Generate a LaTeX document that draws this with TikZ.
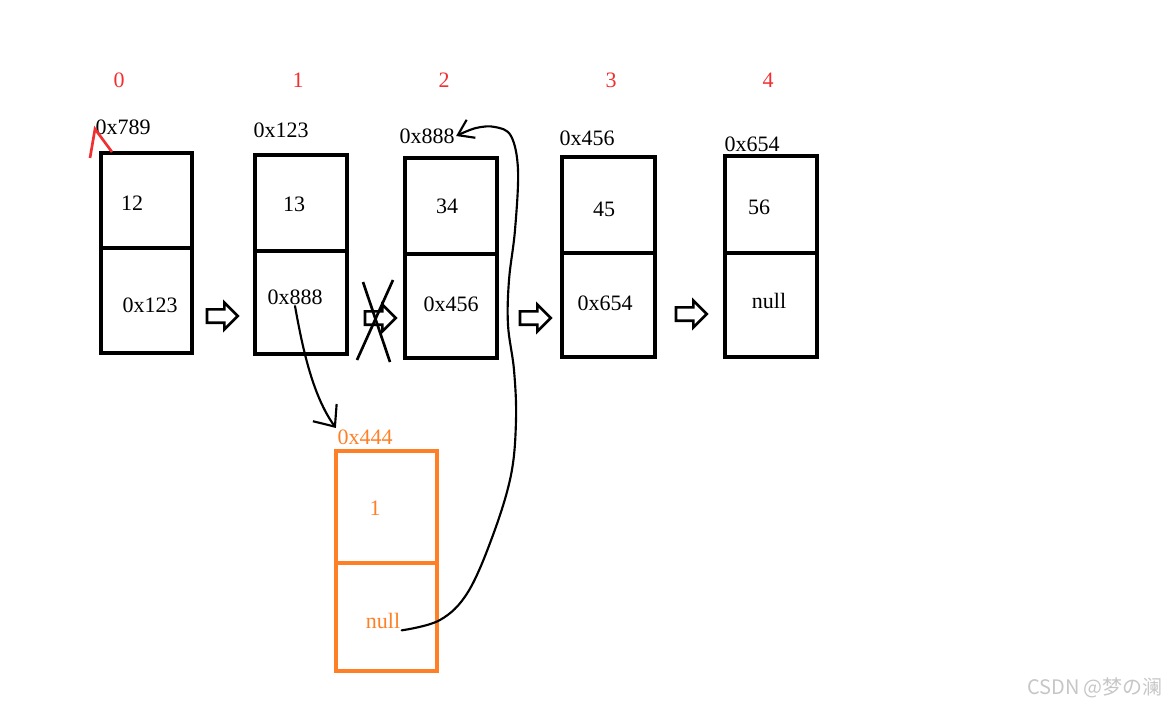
\documentclass[tikz,border=0pt]{standalone}
\usepackage{fontspec}
\setmainfont{Liberation Serif}
\usepackage{xcolor}
\usepackage{tikz}
\usetikzlibrary{arrows.meta,shapes.arrows}
\newfontfamily\cjk{Noto Sans CJK SC}
\definecolor{cNew}{HTML}{FF7F27}
\definecolor{cIdx}{HTML}{F03030}

\begin{document}
\begin{tikzpicture}[x=0.75pt,y=-0.75pt]
  \tikzset{
    box/.style={line width=3pt, line cap=rect},
    txt/.style={font=\fontsize{16.5}{19}\selectfont, inner sep=1pt},
    idx/.style={txt, text=cIdx},
    fat/.style={single arrow, draw, line width=2pt, inner sep=4pt,
      minimum height=23pt, single arrow head extend=5pt},
    hand/.style={line width=1.6pt, line cap=round},
  }
  \useasboundingbox (0,0) rectangle (1176,706);
  % the list: five nodes
  \foreach \l/\t/\m/\r/\b in {101/153/248/192/353, 255/155/251/347/354,
      405/158/254/497/358, 562/157/253/655/357, 725/156/253/817/357} {
    \draw[box] (\l,\t) rectangle (\r,\b);
    \draw[box] (\l,\m) -- (\r,\m);
  }
  \foreach \i/\x/\y/\s in {0/119/80/0, 1/298/80/1, 2/444/80/2, 3/611/80/3, 4/768/80/4}
    \node[idx] (idx\i) at (\x,\y) {\s};
  \foreach \i/\x/\y/\s in {0/123/127/0x789, 1/281/130/0x123, 2/427/136/0x888,
      3/587/138/0x456, 4/752/144/0x654}
    \node[txt] (addr\i) at (\x,\y) {\s};
  \foreach \i/\x/\y/\s in {0/132/203/12, 1/294/204/13, 2/447/206/34,
      3/604/209/45, 4/759/207/56}
    \node[txt] (data\i) at (\x,\y) {\s};
  \foreach \i/\x/\y/\s in {0/150/305/0x123, 1/295/297/0x888, 2/451/304/0x456,
      3/605/303/0x654, 4/769/301/null}
    \node[txt] (next\i) at (\x,\y) {\s};
  % links between the nodes
  \foreach \i/\x/\y in {0/219/316, 1/377/318, 2/532/318, 3/688/314}
    \node[fat] (link\i) at (\x,\y) {};
  \draw[line width=2pt] (363,282) -- (390,362);
  \draw[line width=2pt] (393,280) -- (357,360);
  % head mark
  \draw[cIdx, line width=2pt] (90,158) -- (95,129) -- (112,152);
  % the new node
  \draw[box, cNew] (336,451) rectangle (437,671);
  \draw[box, cNew] (336,563) -- (437,563);
  \node[txt, text=cNew] (addr5) at (365,437) {0x444};
  \node[txt, text=cNew] (data5) at (375,508) {1};
  \node[txt, text=cNew] (next5) at (383,621) {null};
  % re-linking
  \draw[hand, -{Straight Barb[length=13pt,width=22pt]}]
    (next1.south) .. controls (302,345) and (312,395) .. (addr5.north west);
  \draw[hand, -{Straight Barb[length=11pt,width=15pt]}]
    plot[smooth, tension=0.6] coordinates {(next5.south east) (440,620)
      (468,592) (493,535) (511,475) (516,420) (514,370) (508,325) (509,280)
      (515,230) (518,170) (511,136) (495,127) (476,128) (addr2.east)};
  \node[font=\cjk\fontsize{15}{18}\selectfont, text=gray!45] (mark) at (1095,688)
    {CSDN @梦の澜};
\end{tikzpicture}
\end{document}
